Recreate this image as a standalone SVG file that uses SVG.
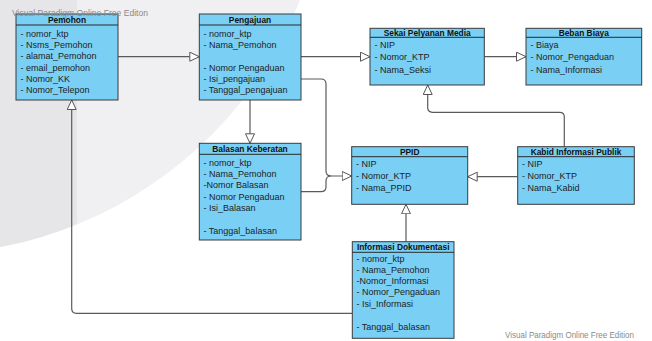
<svg xmlns="http://www.w3.org/2000/svg" width="652" height="341" viewBox="0 0 652 341">
<defs>
<style>
.box{fill:#7acff5;stroke:#3a3a3a;stroke-width:1}
.hl{stroke:#2a2a2a;stroke-width:1}
.t{font-family:"Liberation Sans",Arial,sans-serif;font-size:9px;fill:#1e1e1e}
.h{font-family:"Liberation Sans",Arial,sans-serif;font-size:8.4px;font-weight:bold;fill:#111;text-anchor:middle}
.c{fill:none;stroke:#5a5a5a;stroke-width:1.2}
.wm{font-family:"Liberation Sans",Arial,sans-serif;font-size:9px;fill:#8a8a8a}
</style>
<marker id="tri" markerUnits="userSpaceOnUse" markerWidth="12" markerHeight="12" refX="10" refY="5" orient="auto">
<path d="M0.5,0.5 L10,5 L0.5,9.5 Z" fill="#fff" stroke="#555" stroke-width="1"/>
</marker>
<clipPath id="circ"><circle cx="-74.5" cy="-149" r="403"/></clipPath>
</defs>
<rect width="652" height="341" fill="#fff"/>
<g id="background">
<circle cx="-74.5" cy="-149" r="403" fill="#f0f0f2"/>
<rect x="0" y="0" width="77" height="341" fill="#e6e6e9" clip-path="url(#circ)"/>
</g>
<g id="connectors">
<path class="c" d="M118,56.7 H199.3" marker-end="url(#tri)"/>
<path class="c" d="M301,56.7 H370" marker-end="url(#tri)"/>
<path class="c" d="M484.3,56.7 H526" marker-end="url(#tri)"/>
<path class="c" d="M250,100 V143.3" marker-end="url(#tri)"/>
<path class="c" d="M301,79 H321 Q326,79 326,84 V171 Q326,176 331,176 H351.7" marker-end="url(#tri)"/>
<path class="c" d="M301,191.7 H321 Q326,191.7 326,186.7 V181 Q326,176 331,176"/>
<path class="c" d="M517.7,176.7 H467.7" marker-end="url(#tri)"/>
<path class="c" d="M564.3,146.7 V117 Q564.3,112.3 559.6,112.3 H432.4 Q427.7,112.3 427.7,107.6 V85" marker-end="url(#tri)"/>
<path class="c" d="M406,241.7 V204.3" marker-end="url(#tri)"/>
<path class="c" d="M352.3,313.3 H76.5 Q71.7,313.3 71.7,308.5 V100" marker-end="url(#tri)"/>
</g>
<g id="pemohon">
<rect class="box" x="16" y="14" width="102" height="86"/>
<line class="hl" x1="16" y1="25" x2="118" y2="25"/>
<text class="h" x="67" y="22.5">Pemohon</text>
<text class="t" x="20.5" y="36.5">- nomor_ktp</text>
<text class="t" x="20.5" y="47.8">- Nsms_Pemohon</text>
<text class="t" x="20.5" y="59.2">- alamat_Pemohon</text>
<text class="t" x="20.5" y="70.5">- email_pemohon</text>
<text class="t" x="20.5" y="81.8">- Nomor_KK</text>
<text class="t" x="20.5" y="93.2">- Nomor_Telepon</text>
</g>
<g id="pengajuan">
<rect class="box" x="199.3" y="14" width="101.7" height="86"/>
<line class="hl" x1="199.3" y1="25" x2="301" y2="25"/>
<text class="h" x="250" y="22.5">Pengajuan</text>
<text class="t" x="203.5" y="36.5">- nomor_ktp</text>
<text class="t" x="203.5" y="47.8">- Nama_Pemohon</text>
<text class="t" x="203.5" y="70.5">- Nomor Pengaduan</text>
<text class="t" x="203.5" y="81.8">- Isi_pengajuan</text>
<text class="t" x="203.5" y="93.2">- Tanggal_pengajuan</text>
</g>
<g id="balasan">
<rect class="box" x="199.3" y="143.3" width="101.7" height="96.7"/>
<line class="hl" x1="199.3" y1="154.3" x2="301" y2="154.3"/>
<text class="h" x="250" y="151.8">Balasan Keberatan</text>
<text class="t" x="203.5" y="165.5">- nomor_ktp</text>
<text class="t" x="203.5" y="176.8">- Nama_Pemohon</text>
<text class="t" x="203.5" y="188.2">-Nomor Balasan</text>
<text class="t" x="203.5" y="199.5">- Nomor Pengaduan</text>
<text class="t" x="203.5" y="210.8">- Isi_Balasan</text>
<text class="t" x="203.5" y="233.8">- Tanggal_balasan</text>
</g>
<g id="sekai">
<rect class="box" x="370" y="28.3" width="114.3" height="56.7"/>
<line class="hl" x1="370" y1="37.3" x2="484.3" y2="37.3"/>
<text class="h" x="427.2" y="35.5">Sekai Pelyanan Media</text>
<text class="t" x="374.5" y="48">- NIP</text>
<text class="t" x="374.5" y="60">- Nomor_KTP</text>
<text class="t" x="374.5" y="72.5">- Nama_Seksi</text>
</g>
<g id="beban">
<rect class="box" x="526" y="28.3" width="115.7" height="56.7"/>
<line class="hl" x1="526" y1="37.3" x2="641.7" y2="37.3"/>
<text class="h" x="583.8" y="35.5">Beban Biaya</text>
<text class="t" x="530.5" y="48">- Biaya</text>
<text class="t" x="530.5" y="60">- Nomor_Pengaduan</text>
<text class="t" x="530.5" y="72.5">- Nama_Informasi</text>
</g>
<g id="ppid">
<rect class="box" x="351.7" y="146.7" width="116" height="57.6"/>
<line class="hl" x1="351.7" y1="156.7" x2="467.7" y2="156.7"/>
<text class="h" x="409.7" y="154.5">PPID</text>
<text class="t" x="356" y="167">- NIP</text>
<text class="t" x="356" y="178.5">- Nomor_KTP</text>
<text class="t" x="356" y="190.8">- Nama_PPID</text>
</g>
<g id="kabid">
<rect class="box" x="517.7" y="146.7" width="116.6" height="57.6"/>
<line class="hl" x1="517.7" y1="156.7" x2="634.3" y2="156.7"/>
<text class="h" x="576" y="154.5">Kabid Informasi Publik</text>
<text class="t" x="522" y="167">- NIP</text>
<text class="t" x="522" y="178.5">- Nomor_KTP</text>
<text class="t" x="522" y="190.8">- Nama_Kabid</text>
</g>
<g id="informasi">
<rect class="box" x="352.3" y="241.7" width="101.7" height="96.6"/>
<line class="hl" x1="352.3" y1="252.3" x2="454" y2="252.3"/>
<text class="h" x="403.2" y="250">Informasi Dokumentasi</text>
<text class="t" x="356.5" y="262.3">- nomor_ktp</text>
<text class="t" x="356.5" y="273.3">- Nama_Pemohon</text>
<text class="t" x="356.5" y="284.3">-Nomor_Informasi</text>
<text class="t" x="356.5" y="295.3">- Nomor_Pengaduan</text>
<text class="t" x="356.5" y="306.5">- Isi_Informasi</text>
<text class="t" x="356.5" y="330">- Tanggal_balasan</text>
</g>
<g id="watermarks">
<text class="wm" x="12" y="16" textLength="136" lengthAdjust="spacingAndGlyphs">Visual Paradigm Online Free Editon</text>
<text class="wm" x="505" y="338" textLength="129" lengthAdjust="spacingAndGlyphs">Visual Paradigm Online Free Edition</text>
</g>
</svg>
